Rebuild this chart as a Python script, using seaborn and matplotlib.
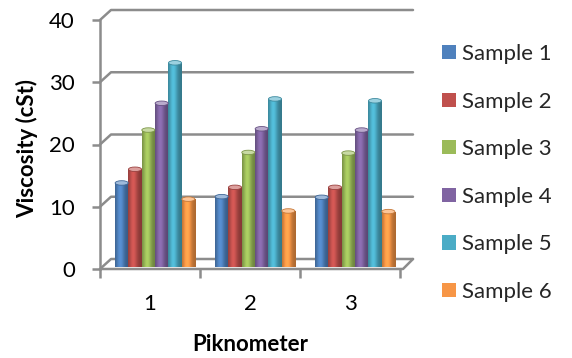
import numpy as np
import pandas as pd
import matplotlib
matplotlib.use("Agg")
import matplotlib.pyplot as plt
import matplotlib.transforms as mtransforms
from matplotlib.patches import Patch, Ellipse
from matplotlib.lines import Line2D
from matplotlib.colors import to_rgb
import seaborn as sns

# ---- data ----
categories = ["1", "2", "3"]
samples = ["Sample 1", "Sample 2", "Sample 3", "Sample 4", "Sample 5", "Sample 6"]
sample1 = [13.5, 11.3, 11.2]
sample2 = [15.7, 12.8, 12.8]
sample3 = [22.0, 18.4, 18.3]
sample4 = [26.3, 22.2, 22.0]
sample5 = [32.8, 27.0, 26.7]
sample6 = [10.9, 9.0, 8.9]
yticks = [0, 10, 20, 30, 40]
colors = ["#4F81BD", "#C0504D", "#9BBB59", "#8064A2", "#4BACC6", "#F79646"]

series = [sample1, sample2, sample3, sample4, sample5, sample6]
rows = []
for s, vals in zip(samples, series):
    for c, v in zip(categories, vals):
        rows.append({"Piknometer": c, "Viscosity": v, "Sample": s})
df = pd.DataFrame(rows)

sns.set_theme(style="white")
plt.rcParams["font.family"] = ["Lato", "DejaVu Sans"]

W, H = 572, 358
fig = plt.figure(figsize=(W / 100, H / 100), dpi=100)
ax_l, ax_r, ax_t, ax_b = 100, 400, 20, 269
ax = fig.add_axes([ax_l / W, (H - ax_b) / H, (ax_r - ax_l) / W, (ax_b - ax_t) / H])

sns.barplot(data=df, x="Piknometer", y="Viscosity", hue="Sample",
            order=categories, hue_order=samples, palette=colors,
            saturation=1, width=0.8, legend=False, ax=ax)

ax.set_xlim(-0.5, 2.5)
ax.set_ylim(0, 40)

grey = "#8C8C8C"
px_per_unit = (ax_b - ax_t) / 40.0
depth_dx = 11 / (ax_r - ax_l)          # axes fraction
depth_dy = 10 / px_per_unit            # data units

# 3D-like back wall gridlines
ytr = ax.get_yaxis_transform()
for v in yticks:
    ax.add_line(Line2D([0, depth_dx, 1 + 13 / 300], [v, v + depth_dy, v + depth_dy],
                       transform=ytr, color=grey, lw=1.8, clip_on=False, zorder=0.5))
# floor
ax.add_line(Line2D([0, 1 + 3 / 300, 1 + 13 / 300], [0, 0, depth_dy],
                   transform=ytr, color=grey, lw=1.8, clip_on=False, zorder=0.5))

# cylinder-like shading of bars
offset = mtransforms.ScaledTranslation(5 / 100, 2 / 100, fig.dpi_scale_trans)
t = np.linspace(0, 1, 64)
shade = 0.70 + 0.42 * np.exp(-((t - 0.38) / 0.30) ** 2)
bars = [p for p in ax.patches]
for p in bars:
    x, w, h = p.get_x(), p.get_width(), p.get_height()
    if h <= 0:
        continue
    base = np.array(to_rgb(p.get_facecolor()))
    grad = np.clip(base[None, :] * shade[:, None], 0, 1)[None, :, :]
    p.set_transform(ax.transData + offset)
    p.set_edgecolor("none")
    im = ax.imshow(grad, extent=[x, x + w, 0, h], aspect="auto",
                   interpolation="bilinear", zorder=2)
    im.set_transform(ax.transData + offset)
    im.set_clip_path(p)
    top = np.clip(base * 0.55 + 0.45, 0, 1)
    el = Ellipse((x + w / 2, h), w * 0.98, 4.5 / px_per_unit,
                 facecolor=top, edgecolor=np.clip(base * 0.8, 0, 1), lw=0.6,
                 transform=ax.transData + offset, zorder=3)
    ax.add_patch(el)

ax.set_xlim(-0.5, 2.5)
ax.set_ylim(0, 40)

# axes styling
for s in ["top", "right", "bottom"]:
    ax.spines[s].set_visible(False)
ax.spines["left"].set_color(grey)
ax.spines["left"].set_linewidth(1.8)
ax.grid(False)

FS = 16
ax.set_yticks(yticks)
ax.set_yticklabels([str(v) for v in yticks])
ax.tick_params(axis="y", which="major", length=6, width=1.8, color=grey,
               labelsize=FS, pad=12, left=True, labelcolor="black")

ax.set_xticks(range(len(categories)))
ax.set_xticklabels(categories)
ax.set_xticks([-0.5, 0.5, 1.5, 2.5], minor=True)
ax.tick_params(axis="x", which="major", length=0, labelsize=FS, pad=18,
               labelcolor="black")
ax.tick_params(axis="x", which="minor", length=6.5, width=1.8, color=grey,
               bottom=True, direction="out")

ax.set_xlabel("Piknometer", fontsize=FS, fontweight="bold", color="black")
ax.xaxis.set_label_coords(0.5, -0.26)
ax.set_ylabel("Viscosity (cSt)", fontsize=FS, fontweight="bold", color="black")
ax.yaxis.set_label_coords(-0.205, 0.485)

handles = [Patch(facecolor=c, edgecolor="none", label=s) for c, s in zip(colors, samples)]
fig.legend(handles=handles, loc="upper left", bbox_to_anchor=(442 / W, 1 - 44 / H),
           frameon=False, fontsize=FS, handlelength=0.62, handleheight=0.62,
           handletextpad=0.3, labelspacing=1.24, borderpad=0, borderaxespad=0)

fig.savefig("out.png", dpi=100)
